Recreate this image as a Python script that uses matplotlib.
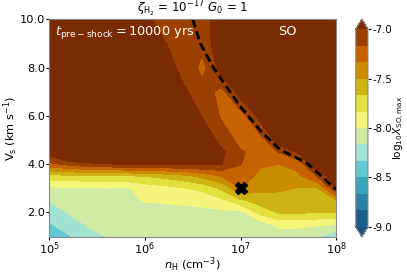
import numpy as np
import matplotlib
matplotlib.use('Agg')
import matplotlib.pyplot as plt
from matplotlib.colors import ListedColormap

plt.rcParams['axes.unicode_minus'] = False

# grid of the model runs
n_H = [1.0e5, 1.6e5, 2.5e5, 4.0e5, 6.3e5, 1.0e6, 1.6e6, 2.5e6, 4.0e6, 6.3e6,
       1.0e7, 1.6e7, 2.5e7, 4.0e7, 6.3e7, 1.0e8]
v_s = [1.0, 1.5, 2.0, 2.5, 3.0, 3.5, 4.0, 4.5, 5.0, 6.0, 7.0, 8.0, 9.0, 10.0]

# log10 X(SO) max, one row per shock velocity
log_x_so = [
    [-8.45, -8.35, -8.22, -8.163, -8.10, -8.14, -8.15, -8.16, -8.15, -8.14, -8.12, -8.14, -8.10, -8.12, -8.16, -8.30],
    [-8.35, -8.242, -8.153, -8.124, -8.08, -8.10, -8.11, -8.12, -8.11, -8.10, -8.08, -8.10, -7.95, -7.95, -7.98, -8.00],
    [-8.248, -8.156, -8.106, -8.085, -8.06, -8.06, -8.06, -8.06, -8.05, -8.04, -8.04, -7.78, -7.65, -7.65, -7.66, -7.66],
    [-8.16, -8.088, -8.059, -8.046, -8.04, -7.99, -7.98, -7.96, -7.94, -7.87, -7.70, -7.58, -7.57, -7.58, -7.60, -7.52],
    [-8.04, -8.019, -8.011, -8.008, -8.02, -7.93, -7.90, -7.845, -7.79, -7.64, -7.333, -7.46, -7.47, -7.51, -7.52, -6.98],
    [-7.73, -7.722, -7.712, -7.703, -7.70, -7.665, -7.62, -7.56, -7.45, -7.33, -7.25, -7.38, -7.40, -7.36, -7.16, -6.80],
    [-7.21, -7.121, -7.04, -7.01, -6.99, -6.98, -6.97, -6.97, -6.97, -6.995, -7.16, -7.31, -7.333, -7.29, -6.80, -6.75],
    [-6.90, -6.60, -6.70, -6.70, -6.70, -6.75, -6.80, -6.85, -6.90, -6.97, -7.14, -7.28, -7.16, -6.97, -6.75, -6.75],
    [-6.75, -6.70, -6.70, -6.70, -6.70, -6.75, -6.85, -6.90, -6.93, -7.04, -7.25, -7.25, -6.88, -6.85, -6.75, -6.75],
    [-6.70, -6.70, -6.70, -6.70, -6.70, -6.75, -6.85, -6.93, -7.005, -7.19, -7.25, -6.92, -6.80, -6.80, -6.75, -6.75],
    [-6.70, -6.70, -6.70, -6.70, -6.70, -6.80, -6.88, -6.97, -7.10, -7.22, -6.90, -6.85, -6.80, -6.80, -6.75, -6.75],
    [-6.70, -6.70, -6.70, -6.70, -6.75, -6.85, -6.93, -7.05, -7.22, -6.90, -6.85, -6.85, -6.80, -6.80, -6.75, -6.75],
    [-6.70, -6.70, -6.70, -6.70, -6.80, -6.90, -6.99, -7.10, -7.10, -6.85, -6.85, -6.85, -6.80, -6.80, -6.75, -6.75],
    [-6.70, -6.70, -6.70, -6.75, -6.85, -6.96, -7.08, -7.10, -7.08, -6.85, -6.85, -6.85, -6.80, -6.80, -6.75, -6.75],
]

levels = [-9.0, -8.833, -8.667, -8.5, -8.333, -8.167, -8.0, -7.833, -7.667, -7.5, -7.333, -7.167, -7.0]
colors = ['#1d5d8a', '#2e80a9', '#3aa6b9', '#63c9d5', '#a3e2d0', '#cfeaa2',
          '#f5f57c', '#e2e03c', '#cdb414', '#cc8c00', '#c66200', '#9b4000']

# dashed boundary and the marked model
dash_n = [3.16e6, 3.8e6, 5.2e6, 9.9e6, 1.6e7, 2.59e7, 3.57e7, 4.92e7, 1.0e8]
dash_v = [10.0, 9.0, 8.0, 6.4, 5.4, 4.6, 4.33, 4.05, 2.95]
mark_n, mark_v = 1.0e7, 3.0

cmap = ListedColormap(colors)
cmap.set_under('#1a5282')
cmap.set_over('#7b2b02')

fig = plt.figure(figsize=(4.07, 2.72), dpi=100)
ax = fig.add_axes([0.121, 0.13, 0.705, 0.799])
cax = fig.add_axes([0.874, 0.13, 0.03, 0.799])

X, Y = np.meshgrid(n_H, v_s)
cf = ax.contourf(X, Y, np.array(log_x_so), levels=levels, cmap=cmap, extend='both')
ax.plot(dash_n, dash_v, color='black', lw=2, ls=(0, (3, 1.5)))
ax.plot(mark_n, mark_v, marker='X', color='black', ms=9, ls='none')

ax.set_xscale('log')
ax.set_xlim(1e5, 1e8)
ax.set_ylim(1, 10)
ax.minorticks_off()
ax.set_xticks([1e5, 1e6, 1e7, 1e8])
ax.set_yticks([2, 4, 6, 8, 10])
ax.set_yticklabels(['2.0', '4.0', '6.0', '8.0', '10.0'])
ax.tick_params(labelsize=8.2, length=2, pad=1)
ax.tick_params(axis='x', pad=0.5)
for s in ax.spines.values():
    s.set_color('#888888')
ax.set_xlabel(r'$n_{\rm H}$ (cm$^{-3}$)', fontsize=8.2, labelpad=-1)
ax.set_ylabel(r'V$_{\rm s}$ (km s$^{-1}$)', fontsize=8.2, labelpad=0)
ax.set_title(r'$\zeta_{\rm H_2}$ = $10^{-17}$ $G_0$ = 1', fontsize=8.5, pad=2)

ax.text(0.02, 0.94, r'$t_{\rm pre-shock} = $10000 yrs', transform=ax.transAxes,
        color='white', fontsize=9.3, va='center', ha='left')
ax.text(0.83, 0.945, 'SO', transform=ax.transAxes, color='white',
        fontsize=9.3, va='center', ha='center')

cb = fig.colorbar(cf, cax=cax, ticks=[-9.0, -8.5, -8.0, -7.5, -7.0], format='%.1f')
cb.ax.tick_params(labelsize=7.3, length=2, pad=1)
cb.outline.set_edgecolor('#888888')
cb.set_label(r'log$_{10}X_{\rm SO,max}$', fontsize=7.5, labelpad=0)

fig.savefig('out.png', dpi=100)
